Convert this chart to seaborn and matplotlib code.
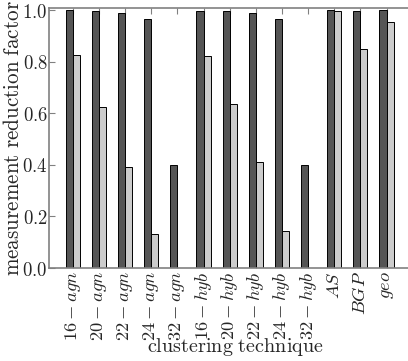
import matplotlib
matplotlib.use('Agg')
import matplotlib.pyplot as plt
import numpy as np
import seaborn as sns
import pandas as pd

techniques = ['16-agn', '20-agn', '22-agn', '24-agn', '32-agn',
              '16-hyb', '20-hyb', '22-hyb', '24-hyb', '32-hyb',
              'AS', 'BGP', 'geo']
tick_labels = [r'$16-agn$', r'$20-agn$', r'$22-agn$', r'$24-agn$', r'$32-agn$',
               r'$16-hyb$', r'$20-hyb$', r'$22-hyb$', r'$24-hyb$', r'$32-hyb$',
               r'$AS$', r'$BGP$', r'$geo$']
series_a = [1.0, 0.995, 0.99, 0.965, 0.40, 0.995, 0.995, 0.99, 0.965, 0.40, 1.0, 0.997, 1.0]
series_b = [0.825, 0.625, 0.39, 0.13, 0.0, 0.82, 0.635, 0.41, 0.145, 0.0, 0.998, 0.85, 0.955]

df = pd.DataFrame({'technique': techniques * 2,
                   'value': series_a + series_b,
                   'series': ['a'] * len(techniques) + ['b'] * len(techniques)})

sns.set_style('white')
plt.rcParams['mathtext.fontset'] = 'cm'

fig = plt.figure(figsize=(4.08, 3.61), dpi=100)
ax = fig.add_axes([49 / 408, 1 - 268 / 361, 359 / 408, 260 / 361])

sns.barplot(data=df, x='technique', y='value', hue='series',
            palette=['#555555', '#cccccc'], width=0.54, gap=0,
            edgecolor='black', linewidth=0.7, legend=False, ax=ax)

ax.set_xlim(-0.91, 12.82)
ax.set_ylim(0, 1.008)
ax.set_xticks(range(len(techniques)))
ax.set_xticklabels(tick_labels, rotation=90, fontsize=13.3)
yt = [0.0, 0.2, 0.4, 0.6, 0.8, 1.0]
ax.set_yticks(yt)
ax.set_yticklabels([r'$%.1f$' % v for v in yt], fontsize=13.5)
ax.tick_params(direction='in', top=True, bottom=True, left=True, right=False,
               length=4, color='#808080', pad=2)
ax.tick_params(axis='y', pad=1)
for s in ['left', 'top', 'bottom']:
    ax.spines[s].set_color('#808080')
    ax.spines[s].set_linewidth(1.2)
ax.spines['right'].set_visible(False)

ax.set_xlabel(r'$\mathrm{clustering\ technique}$', fontsize=14.5)
ax.set_ylabel(r'$\mathrm{measurement\ reduction\ factor}$', fontsize=15.2)
ax.xaxis.set_label_coords(0.518, -0.262)
ax.yaxis.set_label_coords(-0.072, 0.5)

fig.savefig('out.png', dpi=100)
